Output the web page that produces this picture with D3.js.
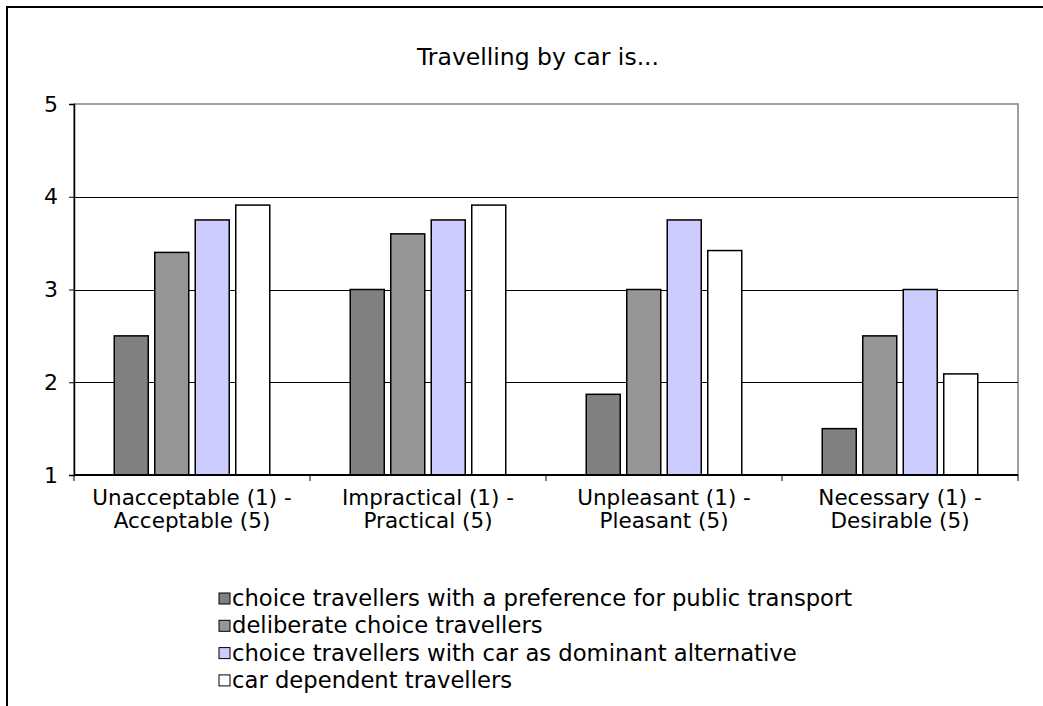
<!DOCTYPE html>
<html><head><meta charset="utf-8">
<script src="https://cdn.jsdelivr.net/npm/d3@7"></script>
<style>body{margin:0;background:#fff}svg{display:block}text{font-family:"DejaVu Sans",Verdana,sans-serif;fill:#000}</style>
</head><body>
<script>
const title = "Travelling by car is...";
const categories = [["Unacceptable (1) -","Acceptable (5)"],["Impractical (1) -","Practical (5)"],["Unpleasant (1) -","Pleasant (5)"],["Necessary (1) -","Desirable (5)"]];
const seriesNames = ["choice travellers with a preference for public transport","deliberate choice travellers","choice travellers with car as dominant alternative","car dependent travellers"];
const seriesColors = ["#808080","#969696","#CCCCFF","#FFFFFF"];
const publicTransport = [2.5, 3.0, 1.87, 1.5];
const deliberate = [3.4, 3.6, 3.0, 2.5];
const carDominant = [3.75, 3.75, 3.75, 3.0];
const carDependent = [3.91, 3.91, 3.42, 2.09];
const yTicks = [1,2,3,4,5];
const seriesValues = [publicTransport, deliberate, carDominant, carDependent];

const W = 1043, H = 706;
const svg = d3.select("body").append("svg").attr("width", W).attr("height", H);
const fs = 22;
// outer border
svg.append("rect").attr("x",7).attr("y",7).attr("width",W+20).attr("height",H+20)
  .attr("fill","none").attr("stroke","#000").attr("stroke-width",2);

const L = 74, R = 1018, T = 104, B = 475;
const x0 = d3.scaleBand().domain(d3.range(categories.length)).range([L,R]);
const y = d3.scaleLinear().domain([1,5]).range([B,T]);
const barW = 34, step = 40.5;

svg.append("text").attr("x",538).attr("y",65).attr("text-anchor","middle").attr("font-size",23.5).text(title);

// plot area border
svg.append("rect").attr("x",L).attr("y",T).attr("width",R-L).attr("height",B-T)
  .attr("fill","none").attr("stroke","#808080").attr("stroke-width",1.5);
// gridlines
svg.append("g").selectAll("line").data(yTicks.filter(t=>t>1&&t<5)).join("line")
  .attr("x1",L).attr("x2",R).attr("y1",d=>Math.round(y(d))+0.5).attr("y2",d=>Math.round(y(d))+0.5)
  .attr("stroke","#000").attr("stroke-width",1);

// bars
seriesValues.forEach((vals,si)=>{
  svg.append("g").selectAll("rect").data(vals).join("rect")
    .attr("x",(d,i)=>x0(i)+x0.bandwidth()/2 + (si-1.5)*step - barW/2)
    .attr("y",d=>y(d)).attr("width",barW).attr("height",d=>y(1)-y(d))
    .attr("fill",seriesColors[si]).attr("stroke","#000").attr("stroke-width",1.5);
});

// y axis
const yAxis = d3.axisLeft(y).tickValues(yTicks).tickSize(5).tickFormat(d3.format("d"));
const ga = svg.append("g").attr("transform",`translate(${L},0)`).call(yAxis);
ga.attr("font-size",fs).attr("font-family","DejaVu Sans");
ga.select(".domain").attr("stroke","#000").attr("stroke-width",1.5);
ga.selectAll("text").attr("font-size",fs).attr("dx",-8).attr("fill","#000");
ga.selectAll("line").attr("stroke","#000");

// x axis
svg.append("line").attr("x1",L).attr("x2",R).attr("y1",B).attr("y2",B).attr("stroke","#000").attr("stroke-width",2);
const boundaries = d3.range(categories.length+1).map(i=> i<categories.length ? x0(i) : R);
svg.append("g").selectAll("line").data(boundaries).join("line")
  .attr("x1",d=>d).attr("x2",d=>d).attr("y1",B).attr("y2",B+6).attr("stroke","#000");
const xl = svg.append("g").selectAll("text").data(categories).join("text")
  .attr("text-anchor","middle").attr("font-size",21.5)
  .attr("transform",(d,i)=>`translate(${x0(i)+x0.bandwidth()/2},0)`);
xl.append("tspan").attr("x",0).attr("y",505).text(d=>d[0]);
xl.append("tspan").attr("x",0).attr("y",528).text(d=>d[1]);

// legend
const lg = svg.append("g").selectAll("g").data(seriesNames).join("g")
  .attr("transform",(d,i)=>`translate(219,${598+i*27.3})`);
lg.append("rect").attr("x",0).attr("y",-5).attr("width",11).attr("height",11)
  .attr("fill",(d,i)=>seriesColors[i]).attr("stroke","#000").attr("stroke-width",1);
lg.append("text").attr("x",13).attr("y",8).attr("font-size",22.7).text(d=>d);
</script>
</body></html>
